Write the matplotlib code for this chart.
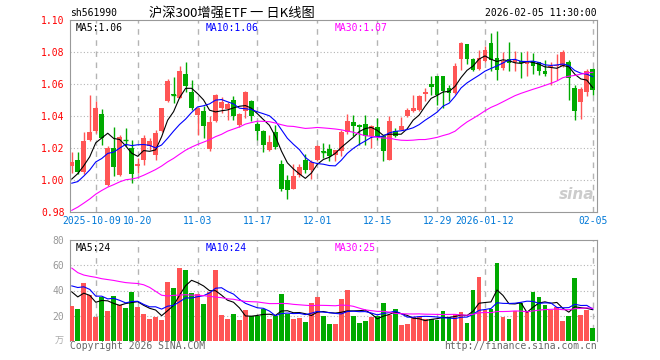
import numpy as np
import pandas as pd
import matplotlib
matplotlib.use("Agg")
import matplotlib.pyplot as plt
import matplotlib.transforms as mtransforms

plt.rcParams['font.family'] = ['DejaVu Sans Mono', 'Noto Sans CJK SC']

# daily candles for sh561990, 2025-09-25 .. 2026-02-05 (88 sessions)
opens = [1.0085, 1.0127, 1.0052, 1.0250, 1.0304, 1.0415, 0.9967, 1.0202, 1.0029, 1.0253,
         1.0200, 1.0085, 1.0127, 1.0215, 1.0156, 1.0304, 1.0496, 1.0535, 1.0512, 1.0664,
         1.0548, 1.0404, 1.0433, 1.0196, 1.0366, 1.0452, 1.0446, 1.0502, 1.0346, 1.0429,
         1.0494, 1.0348, 1.0304, 1.0185, 1.0300, 1.0100, 1.0002, 0.9946, 1.0033, 1.0127,
         1.0064, 1.0127, 1.0180, 1.0196, 1.0154, 1.0180, 1.0298, 1.0363, 1.0346, 1.0352,
         1.0277, 1.0331, 1.0277, 1.0127, 1.0305, 1.0315, 1.0398, 1.0429, 1.0440, 1.0535,
         1.0602, 1.0648, 1.0648, 1.0575, 1.0544, 1.0755, 1.0848, 1.0758, 1.0694, 1.0746,
         1.0856, 1.0762, 1.0700, 1.0756, 1.0735, 1.0744, 1.0725, 1.0742, 1.0735, 1.0679,
         1.0705, 1.0710, 1.0715, 1.0735, 1.0575, 1.0485, 1.0550, 1.0696]
highs = [1.0175, 1.0175, 1.0302, 1.0529, 1.0496, 1.0446, 1.0210, 1.0330, 1.0283, 1.0325,
         1.0252, 1.0137, 1.0283, 1.0260, 1.0310, 1.0450, 1.0633, 1.0644, 1.0710, 1.0735,
         1.0627, 1.0452, 1.0460, 1.0398, 1.0535, 1.0520, 1.0490, 1.0527, 1.0420, 1.0555,
         1.0500, 1.0360, 1.0310, 1.0280, 1.0346, 1.0127, 1.0033, 1.0102, 1.0100, 1.0164,
         1.0125, 1.0220, 1.0231, 1.0227, 1.0190, 1.0315, 1.0415, 1.0408, 1.0350, 1.0408,
         1.0346, 1.0387, 1.0283, 1.0402, 1.0325, 1.0394, 1.0450, 1.0533, 1.0533, 1.0575,
         1.0648, 1.0652, 1.0650, 1.0596, 1.0731, 1.0862, 1.0850, 1.0760, 1.0815, 1.0835,
         1.0919, 1.0929, 1.0798, 1.0863, 1.0806, 1.0800, 1.0806, 1.0794, 1.0740, 1.0750,
         1.0740, 1.0785, 1.0815, 1.0748, 1.0596, 1.0581, 1.0694, 1.0700]
lows = [1.0046, 1.0035, 1.0040, 1.0244, 1.0295, 1.0220, 0.9962, 1.0025, 1.0023, 1.0210,
        0.9980, 1.0044, 1.0096, 1.0190, 1.0125, 1.0300, 1.0490, 1.0480, 1.0510, 1.0548,
        1.0440, 1.0281, 1.0260, 1.0179, 1.0362, 1.0420, 1.0377, 1.0377, 1.0330, 1.0390,
        1.0370, 1.0250, 1.0173, 1.0180, 1.0195, 0.9930, 0.9880, 0.9942, 1.0020, 1.0044,
        1.0008, 1.0120, 1.0140, 1.0120, 1.0120, 1.0150, 1.0290, 1.0277, 1.0220, 1.0221,
        1.0200, 1.0252, 1.0121, 1.0123, 1.0270, 1.0310, 1.0394, 1.0423, 1.0430, 1.0492,
        1.0533, 1.0470, 1.0450, 1.0496, 1.0540, 1.0690, 1.0723, 1.0680, 1.0688, 1.0740,
        1.0683, 1.0627, 1.0688, 1.0679, 1.0680, 1.0635, 1.0650, 1.0660, 1.0658, 1.0650,
        1.0596, 1.0625, 1.0708, 1.0498, 1.0377, 1.0381, 1.0527, 1.0529]
closes = [1.0115, 1.0050, 1.0246, 1.0302, 1.0450, 1.0265, 1.0198, 1.0083, 1.0269, 1.0250,
          1.0037, 1.0102, 1.0262, 1.0245, 1.0296, 1.0448, 1.0616, 1.0532, 1.0683, 1.0585,
          1.0450, 1.0450, 1.0335, 1.0362, 1.0531, 1.0485, 1.0477, 1.0398, 1.0414, 1.0552,
          1.0400, 1.0306, 1.0216, 1.0235, 1.0204, 0.9946, 0.9935, 1.0027, 1.0079, 1.0064,
          1.0110, 1.0210, 1.0177, 1.0150, 1.0185, 1.0297, 1.0367, 1.0335, 1.0331, 1.0277,
          1.0335, 1.0273, 1.0179, 1.0367, 1.0277, 1.0335, 1.0440, 1.0450, 1.0527, 1.0552,
          1.0581, 1.0533, 1.0558, 1.0544, 1.0710, 1.0858, 1.0758, 1.0690, 1.0762, 1.0810,
          1.0752, 1.0690, 1.0742, 1.0731, 1.0748, 1.0733, 1.0746, 1.0715, 1.0679, 1.0662,
          1.0715, 1.0720, 1.0802, 1.0638, 1.0429, 1.0569, 1.0683, 1.0565]
# volume, 万手
volumes = [27.5, 25.1, 45.8, 36.3, 18.7, 34.7, 23.5, 35.5, 28.8, 25.9,
           38.7, 26.7, 21.1, 17.1, 19.0, 16.3, 46.6, 41.9, 57.8, 56.2,
           37.9, 37.1, 29.1, 38.9, 56.2, 20.3, 17.1, 21.1, 16.3, 24.3,
           19.5, 20.1, 25.1, 17.1, 19.5, 37.1, 21.1, 17.1, 17.9, 14.8,
           29.9, 34.7, 19.5, 13.2, 13.2, 33.1, 40.3, 19.5, 14.0, 15.5,
           18.7, 20.1, 29.9, 20.9, 25.1, 12.4, 13.2, 18.7, 18.7, 17.7,
           17.1, 16.3, 23.5, 18.7, 21.5, 22.7, 14.5, 40.3, 50.6, 24.3,
           25.1, 61.8, 18.7, 17.7, 23.5, 29.9, 23.5, 38.7, 34.7, 28.3,
           24.3, 26.7, 15.5, 19.5, 49.8, 20.3, 24.3, 10.0]

# the 29 sessions before the first candle, only used to feed the moving averages
closes_before = [0.945, 0.950, 0.952, 0.955, 0.957, 0.958, 0.961,
                 0.975, 0.985, 0.990, 0.986, 0.980, 0.972, 0.975, 0.979,
                 0.983, 0.988, 0.990, 0.984, 0.9865,
                 0.995, 0.990, 0.992, 0.995, 1.005, 0.988, 1.000, 1.002, 1.0015]
volumes_before = [133, 103, 66, 43, 68, 44, 56, 56, 50, 51, 36, 51, 80, 112, 109,
                  65, 27, 49, 50, 47, 38, 40, 57, 72, 35, 45, 31, 45, 46]

tick_idx = [4, 11, 21, 31, 41, 51, 61, 69, 87]
tick_labels = ["2025-10-09", "10-20", "11-03", "11-17", "12-01",
               "12-15", "12-29", "2026-01-12", "02-05"]

RED = '#ff5555'
GREEN = '#00aa00'
GRID = '#b4b4b4'
SPINE = '#999999'
FS = 7.0


def moving_avg(before, values, n):
    s = pd.Series(list(before) + list(values))
    return s.rolling(n).mean().values[len(before):]


n = len(closes)
x = np.arange(n)
o = np.array(opens)
c = np.array(closes)
up = c >= o
colors = np.where(up, RED, GREEN)

W, H = 660, 360
fig = plt.figure(figsize=(6.6, 3.6), dpi=100)
ax = fig.add_axes([70 / W, 1 - 212 / H, 527 / W, 192 / H])
axv = fig.add_axes([70 / W, 1 - 341 / H, 527 / W, 101 / H])

# ---- price panel ----
ax.vlines(x, lows, highs, colors=colors, lw=1, zorder=3)
body_bottom = np.minimum(o, c)
body_h = np.abs(c - o)
ax.bar(x, body_h, bottom=body_bottom, width=0.8, color=colors, lw=0, zorder=4)
doji = body_h < 0.0006
ax.hlines(c[doji], x[doji] - 0.45, x[doji] + 0.45, colors=colors[doji], lw=1, zorder=4)

ma5 = moving_avg(closes_before, closes, 5)
ma10 = moving_avg(closes_before, closes, 10)
ma30 = moving_avg(closes_before, closes, 30)
ax.plot(x, ma5, color='black', lw=0.8, zorder=5)
ax.plot(x, ma10, color='#0000ff', lw=0.8, zorder=5)
ax.plot(x, ma30, color='#ff00ff', lw=0.8, zorder=5)

ax.set_xlim(-0.3, n - 0.3)
ax.set_ylim(0.98, 1.10)
yt = np.arange(0.98, 1.101, 0.02)
ax.set_yticks(yt)
ax.set_yticklabels([f"{v:.2f}" for v in yt])
ax.tick_params(axis='y', length=0, colors='#ff0000', labelsize=FS, pad=4)
ax.set_xticks(tick_idx)
ax.set_xticklabels(tick_labels)
ax.tick_params(axis='x', length=0, colors='#0078d7', labelsize=FS, pad=3)
# nudge the long first date label so it does not run into "10-20"
lbl0 = ax.get_xticklabels()[0]
lbl0.set_transform(lbl0.get_transform() +
                   mtransforms.ScaledTranslation(-4 / 100, 0, fig.dpi_scale_trans))
for yv in np.arange(1.00, 1.09, 0.02):
    ax.axhline(yv, color=GRID, lw=0.8, ls=(0, (1, 2)), zorder=1)
for t in tick_idx:
    ax.axvline(t, color=GRID, lw=1, ls=(0, (4, 4)), zorder=1)
for s in ax.spines.values():
    s.set_color(SPINE)

ax.text(0.01, 0.985, "MA5:1.06", transform=ax.transAxes, color='black',
        fontsize=FS, va='top', ha='left')
ax.text(0.257, 0.985, "MA10:1.06", transform=ax.transAxes, color='#0000ff',
        fontsize=FS, va='top', ha='left')
ax.text(0.503, 0.985, "MA30:1.07", transform=ax.transAxes, color='#ff00ff',
        fontsize=FS, va='top', ha='left')
ax.text(0.995, 0.09, "sina", transform=ax.transAxes, color='#cccccc',
        fontsize=11, fontstyle='italic', fontweight='bold', ha='right', va='center',
        family='DejaVu Sans', zorder=0)

# ---- volume panel ----
axv.bar(x, volumes, width=0.8, color=colors, lw=0, zorder=3)
vma5 = moving_avg(volumes_before, volumes, 5)
vma10 = moving_avg(volumes_before, volumes, 10)
vma30 = moving_avg(volumes_before, volumes, 30)
axv.plot(x, vma5, color='black', lw=0.8, zorder=5)
axv.plot(x, vma10, color='#0000ff', lw=0.8, zorder=5)
axv.plot(x, vma30, color='#ff00ff', lw=0.8, zorder=5)
axv.set_xlim(-0.3, n - 0.3)
axv.set_ylim(0, 80)
axv.set_yticks([20, 40, 60, 80])
axv.tick_params(axis='y', length=0, colors='#999999', labelsize=FS, pad=4)
axv.set_xticks([])
for yv in [20, 40, 60]:
    axv.axhline(yv, color=GRID, lw=0.8, ls=(0, (1, 2)), zorder=1)
for t in tick_idx:
    axv.axvline(t, color=GRID, lw=1, ls=(0, (4, 4)), zorder=1)
for s in axv.spines.values():
    s.set_color(SPINE)
axv.spines['bottom'].set_visible(False)

axv.text(0.01, 0.97, "MA5:24", transform=axv.transAxes, color='black',
         fontsize=FS, va='top', ha='left')
axv.text(0.257, 0.97, "MA10:24", transform=axv.transAxes, color='#0000ff',
         fontsize=FS, va='top', ha='left')
axv.text(0.503, 0.97, "MA30:25", transform=axv.transAxes, color='#ff00ff',
         fontsize=FS, va='top', ha='left')

# ---- header / footer text ----
fig.text(70 / W, 1 - 13 / H, "sh561990", fontsize=FS, va='center', ha='left')
fig.text(149 / W, 1 - 13 / H, "沪深300增强ETF 一 日K线图", fontsize=9.5, va='center',
         ha='left', family=['Noto Sans CJK SC', 'DejaVu Sans'])
fig.text(597 / W, 1 - 13 / H, "2026-02-05 11:30:00", fontsize=FS, va='center', ha='right')
fig.text(64 / W, 1 - 341 / H, "万", fontsize=6.5, color='#aaaaaa', va='center', ha='right',
         family=['Noto Sans CJK SC', 'DejaVu Sans'])
fig.text(70 / W, 1 - 346 / H, "Copyright 2026 SINA.COM", fontsize=FS, color='#666666',
         va='center', ha='left')
fig.text(597 / W, 1 - 346 / H, "http://finance.sina.com.cn", fontsize=FS, color='#666666',
         va='center', ha='right')

fig.savefig("out.png", dpi=100)
